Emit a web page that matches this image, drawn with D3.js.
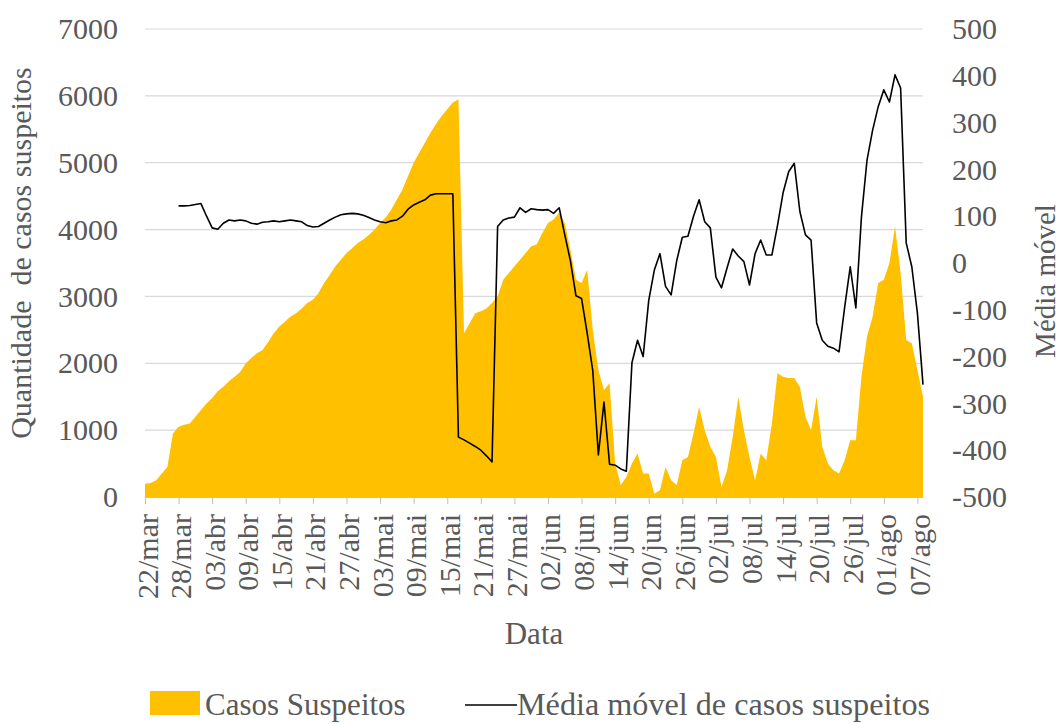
<!DOCTYPE html>
<html>
<head>
<meta charset="utf-8">
<script src="https://cdn.jsdelivr.net/npm/d3@7"></script>
<style>
  body { margin: 0; background: #fff; }
  svg text { font-family: "Liberation Serif", "Times New Roman", serif; fill: #595959; }
</style>
</head>
<body>
<svg id="chart" width="1064" height="724"></svg>
<script>
// daily values, 22/mar .. 08/ago (140 days)
const startDate = new Date(2020, 2, 22);

const casosSuspeitos = [
  200, 210, 250, 350, 450, 950, 1050, 1080, 1100, 1200,
  1300, 1400, 1480, 1580, 1650, 1730, 1800, 1870, 2000, 2080,
  2150, 2200, 2320, 2450, 2550, 2620, 2700, 2750, 2820, 2900,
  2950, 3050, 3200, 3320, 3450, 3550, 3650, 3720, 3800, 3850,
  3920, 4000, 4100, 4180, 4300, 4450, 4600, 4800, 5000, 5150,
  5300, 5450, 5580, 5700, 5800, 5900, 5950, 2450, 2600, 2750,
  2780, 2820, 2900, 3000, 3250, 3350, 3450, 3550, 3650, 3750,
  3780, 3950, 4100, 4150, 4250, 4100, 3700, 3250, 3200, 3400,
  2500, 1900, 1600, 1700, 500, 180, 300, 500, 650, 350,
  350, 50, 100, 450, 250, 180, 550, 600, 950, 1350,
  1000, 750, 600, 150, 400, 900, 1500, 1000, 600, 250,
  650, 550, 1100, 1850, 1800, 1780, 1780, 1650, 1200, 1000,
  1500, 750, 500, 400, 350, 550, 850, 850, 1800, 2400,
  2700, 3200, 3250, 3500, 4050, 3350, 2350, 2300, 1900, 1500
];

const mediaMovel = [
  null, null, null, null, null, null, 122, 122, 123, 125,
  127, 100, 75, 72, 85, 92, 90, 92, 90, 85,
  83, 87, 88, 90, 88, 90, 92, 90, 88, 80,
  77, 78, 85, 92, 98, 103, 105, 106, 105, 102,
  97, 92, 88, 86, 90, 92, 100, 115, 124, 130,
  135, 145, 148, 148, 148, 148, -372, -378, -385, -392,
  -400, -412, -425, 78, 92, 96, 98, 118, 108, 116,
  114, 113, 114, 106, 118, 60, 5, -70, -76, -150,
  -230, -410, -297, -430, -432, -440, -445, -213, -165, -200,
  -80, -15, 20, -50, -68, 5, 55, 57, 100, 135,
  88, 75, -30, -53, -10, 30, 15, 3, -47, 20,
  49, 17, 17, 80, 150, 195, 213, 110, 60, 49,
  -128, -165, -178, -182, -190, -95, -8, -96, 98, 220,
  284, 334, 370, 344, 402, 374, 43, -8, -107, -260
];

const tickLabels = ["22/mar", "28/mar", "03/abr", "09/abr", "15/abr", "21/abr", "27/abr",
  "03/mai", "09/mai", "15/mai", "21/mai", "27/mai", "02/jun", "08/jun", "14/jun",
  "20/jun", "26/jun", "02/jul", "08/jul", "14/jul", "20/jul", "26/jul", "01/ago", "07/ago"];

const leftTicks = [0, 1000, 2000, 3000, 4000, 5000, 6000, 7000];
const rightTicks = [-500, -400, -300, -200, -100, 0, 100, 200, 300, 400, 500];

var fs = 30;
var svg = d3.select("#chart");

const dates = casosSuspeitos.map((d, i) => d3.timeDay.offset(startDate, i));

var x = d3.scaleTime()
    .domain([dates[0], dates[dates.length - 1]])
    .range([145, 923]);
var yL = d3.scaleLinear().domain([0, 7000]).range([497, 29]);
var yR = d3.scaleLinear().domain([-500, 500]).range([497, 29]);

// gridlines
svg.append("g")
    .selectAll("line")
    .data(leftTicks.filter(t => t > 0))
    .enter().append("line")
    .attr("x1", 145).attr("x2", 923)
    .attr("y1", d => yL(d)).attr("y2", d => yL(d))
    .attr("stroke", "#d9d9d9").attr("stroke-width", 1.2);

// area
var area = d3.area()
    .x((d, i) => x(dates[i]))
    .y0(yL(0))
    .y1(d => yL(d));
svg.append("path")
    .datum(casosSuspeitos)
    .attr("fill", "#ffc000")
    .attr("d", area);

// x axis
const tickDates = tickLabels.map((t, i) => d3.timeDay.offset(startDate, i * 6));
var xAxis = svg.append("g")
    .attr("transform", "translate(0,497)")
    .call(d3.axisBottom(x).tickValues(tickDates).tickSize(7).tickSizeOuter(0)
        .tickFormat((d, i) => tickLabels[i]));
xAxis.select(".domain").attr("stroke", "#bfbfbf").attr("stroke-width", 1.2);
xAxis.selectAll(".tick line").attr("stroke", "#bfbfbf");
xAxis.selectAll(".tick text")
    .attr("font-size", fs)
    .attr("font-family", "Liberation Serif")
    .attr("fill", "#595959")
    .attr("text-anchor", "end")
    .attr("transform", "rotate(-90)")
    .attr("x", -17).attr("y", 0).attr("dy", "0.4em");

// left axis
var left = svg.append("g")
    .attr("transform", "translate(145,0)")
    .call(d3.axisLeft(yL).tickValues(leftTicks).tickSize(0).tickPadding(27)
        .tickFormat(d3.format("d")));
left.select(".domain").remove();
left.selectAll("text").attr("font-size", fs).attr("font-family", "Liberation Serif").attr("fill", "#595959");

// right axis
var right = svg.append("g")
    .attr("transform", "translate(923,0)")
    .call(d3.axisRight(yR).tickValues(rightTicks).tickSize(0).tickPadding(29)
        .tickFormat(d => String(d)));
right.select(".domain").remove();
right.selectAll("text").attr("font-size", fs).attr("font-family", "Liberation Serif").attr("fill", "#595959");

// moving average line
var line = d3.line()
    .defined(d => d !== null)
    .x((d, i) => x(dates[i]))
    .y(d => yR(d));
svg.append("path")
    .datum(mediaMovel)
    .attr("fill", "none")
    .attr("stroke", "#000")
    .attr("stroke-width", 1.6)
    .attr("stroke-linejoin", "round")
    .attr("d", line);

// axis titles
svg.append("text")
    .attr("transform", "translate(31,253) rotate(-90)")
    .attr("text-anchor", "middle")
    .attr("font-size", fs)
    .style("white-space", "pre")
    .text("Quantidade  de casos suspeitos");
svg.append("text")
    .attr("transform", "translate(1055,281) rotate(-90)")
    .attr("text-anchor", "middle")
    .attr("font-size", 29)
    .text("Média móvel");
svg.append("text")
    .attr("x", 534).attr("y", 644)
    .attr("text-anchor", "middle")
    .attr("font-size", 31)
    .text("Data");

// legend
var legend = svg.append("g");
legend.append("rect")
    .attr("x", 150).attr("y", 691).attr("width", 50).attr("height", 24)
    .attr("fill", "#ffc000");
legend.append("text")
    .attr("x", 205).attr("y", 715)
    .attr("font-size", 31)
    .text("Casos Suspeitos");
legend.append("line")
    .attr("x1", 465).attr("x2", 517).attr("y1", 705).attr("y2", 705)
    .attr("stroke", "#000").attr("stroke-width", 1.6);
legend.append("text")
    .attr("x", 517).attr("y", 715)
    .attr("font-size", 31)
    .attr("textLength", 413)
    .attr("lengthAdjust", "spacingAndGlyphs")
    .text("Média móvel de casos suspeitos");
</script>
</body>
</html>
